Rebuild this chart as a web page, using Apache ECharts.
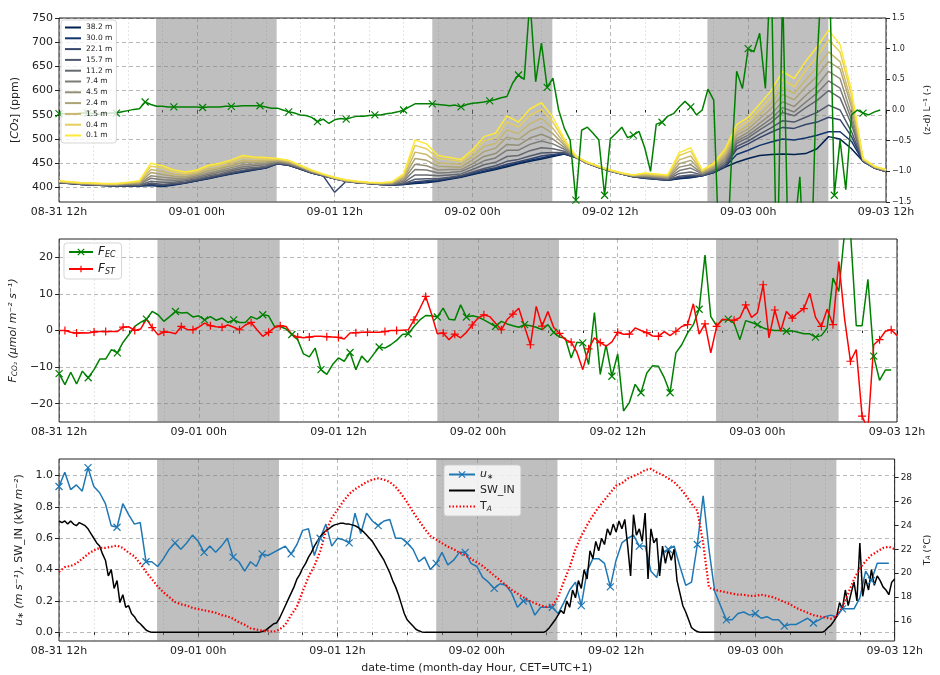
<!DOCTYPE html>
<html><head><meta charset="utf-8">
<script src="https://cdn.jsdelivr.net/npm/echarts@6/dist/echarts.min.js"></script>
<style>html,body{margin:0;padding:0;background:#fff}#c{width:940px;height:675px}</style>
</head><body><div id="c"></div>
<script>
// ---------------- DATA ----------------
// x in hours since 08-31 12:00 (CET)
const xTickLabels = ['08-31 12h','09-01 00h','09-01 12h','09-02 00h','09-02 12h','09-03 00h','09-03 12h'];
const nightShades = [[8.45,18.95],[32.5,42.95],[56.45,66.98]];
const co2Ticks = [400,450,500,550,600,650,700,750];
const fluxTicks = [-20,-10,0,10,20];
const ustarTicks = [0,0.2,0.4,0.6,0.8,1.0];
const taTicks = [16,18,20,22,24,26,28];

const heights = ['38.2 m','30.0 m','22.1 m','15.7 m','11.2 m','7.4 m','4.5 m','2.4 m','1.5 m','0.4 m','0.1 m'];
const heightColors = ['#00224e','#123570','#35456c','#4f576c','#666970','#7c7b78','#958f78','#aea373','#c9b86c','#e4cf5b','#fee838'];

// hourly CO2 concentration (ppm), 08-31 12h .. 09-03 12h
const co2_38_2 = [410,408,406,405,404,403,403,403,404,402,405,409,414,418,423,428,432,436,440,449,446,438,430,424,418,413,410,408,406,405,406,408,410,413,417,421,427,432,437,443,449,454,459,464,469,462,450,441,434,428,422,419,417,415,418,420,424,431,442,452,460,466,468,469,468,470,480,505,500,480,454,440,433];
const co2_30_0 = [410,408,406,405,404,403,403,403,405,403,406,409,414,419,424,429,433,437,440,449,446,438,430,424,418,413,410,408,406,405,406,410,412,414,418,422,428,433,439,445,451,456,461,466,469,462,450,441,434,428,422,419,417,415,419,421,424,431,443,468,477,487,494,500,498,502,508,515,515,495,454,440,433];
const co2_22_1 = [410,408,406,405,404,403,403,404,406,404,407,410,415,419,424,429,434,437,441,449,446,438,430,424,390,413,410,408,406,405,407,412,414,416,419,423,430,436,441,448,453,459,465,468,471,462,450,441,434,428,422,420,418,416,421,423,424,432,444,479,490,503,514,524,522,530,535,545,540,505,455,440,433];
const co2_15_7 = [410,408,406,405,404,404,404,404,409,406,408,411,416,421,426,431,435,439,442,450,447,439,431,424,418,413,410,408,406,406,408,417,418,418,421,425,432,439,445,454,458,465,471,472,472,462,450,441,434,428,422,420,418,416,423,426,425,433,446,485,496,510,523,538,535,545,555,570,560,515,455,440,433];
const co2_11_2 = [411,409,407,406,405,404,405,405,413,411,411,414,418,424,428,434,439,441,444,451,448,440,431,425,418,413,410,408,407,406,410,426,426,424,426,428,437,447,452,464,466,476,482,480,475,462,450,441,434,428,423,421,419,417,429,432,426,435,450,491,503,519,534,555,548,565,580,600,585,530,456,441,434];
const co2_7_4 = [411,409,407,406,405,405,406,407,419,416,415,416,421,427,432,437,443,445,447,452,449,441,432,425,419,414,411,409,407,407,413,437,436,430,431,433,443,455,461,477,477,489,496,490,479,463,450,442,434,428,423,423,421,419,435,440,428,437,454,496,508,525,542,565,556,576,595,620,605,540,456,441,434];
const co2_4_5 = [412,410,408,407,406,405,407,408,424,421,419,419,424,430,435,441,447,448,450,454,450,442,433,426,419,414,411,409,408,408,416,448,445,436,437,437,449,464,470,489,487,502,510,500,483,463,451,442,435,429,424,424,422,420,442,447,429,439,459,501,514,533,551,577,567,590,610,640,625,550,457,442,435];
const co2_2_4 = [412,410,408,407,406,406,408,409,431,427,423,422,427,434,439,445,452,452,453,455,452,443,433,426,419,414,411,409,408,409,419,460,456,444,443,442,457,474,481,504,499,517,526,511,487,463,451,442,435,429,424,425,423,421,449,456,431,442,464,508,521,542,563,592,581,607,630,660,645,565,457,442,435];
const co2_1_5 = [413,411,409,408,407,407,409,411,437,433,427,426,430,438,442,449,456,455,456,457,453,444,434,427,420,415,412,410,409,410,422,473,468,451,449,448,464,485,491,519,511,532,543,522,491,464,451,443,435,429,425,427,425,423,457,465,433,445,469,514,528,551,574,606,594,622,648,680,660,575,458,443,436];
const co2_0_4 = [413,411,409,408,407,407,410,413,444,440,432,429,433,443,447,453,462,460,459,459,455,445,435,427,420,415,412,410,409,411,425,487,480,460,457,454,472,496,503,535,525,549,561,535,496,464,452,443,436,430,425,429,427,425,466,475,435,448,475,522,537,561,587,623,608,641,670,705,680,590,459,443,436];
const co2_0_1 = [414,412,410,409,408,408,411,414,450,445,436,432,436,446,450,457,466,463,462,460,456,446,436,428,421,416,413,411,410,412,428,498,490,466,462,458,478,505,512,548,535,562,575,545,500,465,452,444,436,430,426,430,428,426,472,482,436,450,480,530,545,572,600,640,625,660,690,725,695,600,460,444,437];

// half-hourly stability (z-d)/L (-)
const zL = [-0.06,-0.06,-0.07,-0.06,-0.05,-0.05,-0.06,-0.07,-0.06,-0.05,
-0.05,-0.03,-0.01,0.01,0.02,0.13,0.09,0.06,0.06,0.05,
0.05,0.05,0.05,0.05,0.05,0.04,0.05,0.05,0.05,0.06,
0.06,0.06,0.07,0.07,0.07,0.07,0.05,0.03,0.03,0.0,
-0.03,-0.05,-0.08,-0.09,-0.12,-0.19,-0.15,-0.22,-0.16,-0.14,
-0.15,-0.12,-0.10,-0.10,-0.09,-0.08,-0.08,-0.06,-0.05,-0.03,
0.0,0.05,0.1,0.1,0.1,0.1,0.09,0.08,0.07,0.08,
0.05,0.09,0.11,0.12,0.13,0.15,0.17,0.2,0.22,0.44,
0.57,0.5,1.8,0.46,1.09,0.37,0.52,0.0,-0.3,-0.49,
-1.47,-0.33,-0.28,-0.38,-0.49,-1.39,-0.47,-0.38,-0.28,-0.45,
-0.41,-0.35,-0.62,-1.0,-0.23,-0.2,-0.1,-0.06,0.05,0.14,
0.05,-0.08,0.0,0.34,0.16,-2.5,-3.0,-1.0,0.63,0.35,
1.0,0.95,1.25,0.35,2.5,-3.0,2.0,-2.5,-2.0,-1.09,
-3.0,-2.5,0.8,2.5,3.0,-1.39,-0.49,-1.3,-0.08,0.0,
-0.05,-0.08,-0.03,0.0];

// half-hourly fluxes (umol m-2 s-1)
const fEC = [-11.8,-14.8,-11.4,-14.6,-11.1,-12.9,-10.7,-7.8,-7.8,-5.2,
-6.1,-3.2,-1.1,1.1,2.2,3.1,5.2,4.3,2.5,3.8,
5.2,4.8,4.9,3.7,4.0,2.9,3.8,2.8,3.4,2.2,
2.9,2.2,2.2,3.8,3.1,4.3,4.0,1.1,1.1,0.4,
-1.1,-2.5,-6.4,-7.2,-4.8,-10.7,-12.0,-9.3,-7.5,-8.4,
-6.0,-10.7,-7.0,-8.7,-6.6,-4.5,-4.8,-3.9,-2.7,-1.1,
-0.9,1.1,2.9,4.1,4.0,3.7,6.1,3.1,2.9,7.0,
3.7,4.0,3.7,2.9,2.0,1.1,2.5,1.8,1.3,0.9,
1.6,1.3,0.9,0.2,1.6,-0.5,-1.8,-2.1,-7.5,-3.2,
-3.4,-9.3,4.9,-12.0,-3.9,-12.5,-6.4,-22.0,-19.7,-14.7,
-17.0,-11.6,-9.6,-9.8,-12.9,-17.0,-6.1,-3.9,-0.7,1.6,
5.8,20.6,3.8,1.3,2.9,3.1,2.0,-2.5,2.7,2.2,
1.6,0.7,0.2,0.0,0.0,-0.2,-0.1,-0.5,-0.9,-0.9,
-1.8,-1.4,0.7,14.3,10.7,27,27,1.3,1.3,14.0,
-7.0,-13.6,-10.8,-10.8];
const fST = [0.0,0.0,-0.5,-0.7,-0.6,-0.7,-0.4,-0.3,-0.3,-0.3,
-0.3,0.9,1.0,0.0,0.4,3.1,0.8,-1.2,-0.4,-0.5,
-0.9,1.1,0.3,0.2,0.9,2.0,1.3,1.0,0.9,1.5,
0.9,0.2,1.5,2.2,0.2,-1.6,-0.5,0.8,1.3,1.1,
-1.1,-1.8,-2.0,-1.8,-1.6,-1.6,-1.7,-1.8,-1.9,-2.3,
-0.7,-0.6,-0.5,-0.5,-0.5,-0.5,-0.3,0.0,0.0,0.1,
0.2,2.9,6.0,9.3,4.5,-0.9,-0.7,-2.5,-1.0,-2.0,
-0.5,1.5,3.4,4.3,3.8,2.0,0.2,3.0,4.5,6.1,
1.0,-3.9,6.6,1.2,5.2,0.8,-0.8,-2.5,-3.2,-6.0,
-10.7,-5.0,-2.0,-3.3,-4.3,-3.1,-0.5,-1.0,-1.0,0.7,
0.0,-0.6,-1.5,-1.6,-0.3,-1.4,-0.2,1.1,1.6,7.3,
-1.0,1.8,-6.1,1.1,3.1,2.9,2.8,3.5,7.0,3.6,
4.8,12.5,-2.0,5.6,-0.2,5.2,3.4,4.8,6.0,10.2,
3.6,1.1,5.8,1.6,18.8,3.1,-8.4,-5.2,-23.4,-27,
-3.9,-2.5,-0.2,0.2,-1.4];

// half-hourly friction velocity (m s-1)
const uStar = [0.93,1.02,0.91,0.94,0.90,1.05,0.93,0.89,0.82,0.68,
0.67,0.82,0.75,0.69,0.70,0.45,0.45,0.42,0.47,0.53,
0.57,0.53,0.57,0.62,0.58,0.51,0.55,0.51,0.55,0.60,
0.48,0.45,0.39,0.45,0.42,0.50,0.49,0.51,0.53,0.55,
0.50,0.56,0.65,0.66,0.49,0.60,0.69,0.55,0.60,0.59,
0.57,0.76,0.63,0.76,0.71,0.68,0.71,0.72,0.60,0.60,
0.57,0.53,0.45,0.48,0.40,0.44,0.51,0.43,0.46,0.51,
0.51,0.44,0.42,0.35,0.32,0.28,0.31,0.30,0.25,0.16,
0.20,0.20,0.11,0.16,0.16,0.16,0.12,0.19,0.27,0.32,
0.17,0.39,0.47,0.47,0.44,0.29,0.46,0.57,0.60,0.62,
0.55,0.55,0.39,0.35,0.51,0.53,0.55,0.42,0.30,0.32,
0.56,0.87,0.53,0.26,0.17,0.08,0.08,0.12,0.13,0.11,
0.12,0.09,0.10,0.08,0.08,0.04,0.05,0.05,0.07,0.09,
0.06,0.08,0.10,0.11,0.10,0.15,0.15,0.15,0.22,0.39,
0.33,0.44,0.44,0.44];

// 15-min incoming shortwave radiation (kW m-2)
const swIn = [0.71,0.70,0.71,0.69,0.71,0.69,0.68,0.70,0.69,0.68,
0.66,0.63,0.60,0.57,0.55,0.50,0.46,0.36,0.40,0.28,
0.33,0.19,0.24,0.16,0.17,0.12,0.10,0.07,0.055,0.035,
0.015,0.005,
0,0,0,0,0,0,0,0,0,0,
0,0,0,0,0,0,0,0,0,0,
0,0,0,0,0,0,0,0,0,0,
0,0,0,0,0,0,0,0,
0.005,0.01,0.025,0.04,0.055,0.06,0.09,0.13,0.17,0.21,
0.25,0.29,0.34,0.37,0.41,0.44,0.48,0.51,0.55,0.58,
0.61,0.63,0.65,0.66,0.675,0.685,0.69,0.695,0.695,0.69,
0.69,0.685,0.68,0.67,0.655,0.64,0.62,0.60,0.58,0.55,
0.52,0.49,0.46,0.42,0.38,0.33,0.29,0.24,0.18,0.12,
0.08,0.06,0.04,0.02,0.01,0.003,
0,0,0,0,0,0,0,0,0,0,
0,0,0,0,0,0,0,0,0,0,
0,0,0,0,0,0,0,0,0,0,
0,0,0,0,0,0,0,0,0,0,
0,0,
0.01,0.03,0.055,0.08,0.11,0.14,0.12,0.2,0.16,0.27,
0.22,0.33,0.28,0.4,0.34,0.52,0.47,0.58,0.52,0.6,
0.56,0.66,0.62,0.69,0.64,0.71,0.66,0.72,0.55,0.36,
0.75,0.62,0.66,0.58,0.76,0.34,0.66,0.57,0.6,0.36,
0.55,0.44,0.53,0.46,0.53,0.33,0.25,0.17,0.13,0.08,
0.03,0.015,0.005,
0,0,0,0,0,0,0,0,0,0,
0,0,0,0,0,0,0,0,0,0,
0,0,0,0,0,0,0,0,0,0,
0,0,0,0,0,0,0,0,0,0,
0,0,0,
0.01,0.03,0.045,0.07,0.1,0.19,0.15,0.27,0.17,0.25,
0.32,0.2,0.57,0.23,0.34,0.27,0.4,0.3,0.36,0.33,
0.29,0.27,0.24,0.32,0.34];

// half-hourly air temperature (degC)
const tA = [20.1,20.5,20.6,20.8,21.2,21.6,21.9,22.1,22.1,22.2,
22.3,22.1,21.7,21.4,20.8,20.1,19.5,18.9,18.4,18.0,
17.6,17.4,17.3,17.1,17.0,16.9,16.8,16.7,16.5,16.4,
16.2,15.9,15.7,15.4,15.3,15.2,15.2,15.1,15.3,15.7,
16.5,17.2,18.5,19.7,20.6,21.8,23.5,24.6,25.3,26.0,
26.6,27.0,27.3,27.6,27.8,27.9,27.8,27.6,27.2,26.6,
25.9,25.1,24.4,23.7,23.1,22.8,22.5,22.2,22.0,21.7,
21.5,21.2,20.9,20.6,20.2,19.8,19.4,19.0,18.6,18.3,
18.0,17.7,17.5,17.3,17.2,17.3,18.0,19.3,20.5,22.0,
23.1,24.0,24.8,25.5,26.1,26.7,27.3,27.5,27.9,28.1,
28.3,28.6,28.7,28.4,28.2,27.9,27.6,27.1,26.5,25.8,
25.2,22.5,18.8,18.6,18.5,18.4,18.3,18.2,18.2,18.1,
18.1,18.2,18.1,18.0,17.8,17.6,17.4,17.1,16.9,16.7,
16.5,16.4,16.3,16.2,16.4,17.2,18.3,19.5,20.4,21.0,
21.5,21.8,22.1,22.2,22.0];

// ---------------- CHART ----------------
const co2Series = [co2_38_2,co2_30_0,co2_22_1,co2_15_7,co2_11_2,co2_7_4,co2_4_5,co2_2_4,co2_1_5,co2_0_4,co2_0_1];
const X_SYM = 'path://M0,0L10,10M0,10L10,0';
const P_SYM = 'path://M5,0L5,10M0,5L10,5';
const TXT = '#222';
const FONT = 'DejaVu Sans';

function pts(arr, step){ return arr.map((v,i)=>[i*step, v]); }
function marked(arr, step, isMark){
  return arr.map((v,i)=> isMark(i) ? {value:[i*step,v]} : {value:[i*step,v], symbol:'none'});
}
const minus = s => String(s).replace('-', '\u2212');

const gridLine = {show:true, lineStyle:{color:'rgba(0,0,0,0.35)', type:[4,3], width:0.8}};
function xAx(gi, named){
  return {type:'value', gridIndex:gi, min:0, max:72, interval:12,
    axisLine:{show:false},
    axisTick:{show:true, length:4, lineStyle:{color:TXT}},
    minorTick:{show:true, splitNumber:4, length:2.5, lineStyle:{color:TXT}},
    axisLabel:{formatter:v=>xTickLabels[Math.round(v/12)], fontSize:11, color:TXT, margin:5, showMinLabel:true, showMaxLabel:true, fontFamily:FONT},
    splitLine:gridLine,
    minorSplitLine:{show:true, lineStyle:{color:'rgba(0,0,0,0.13)', type:[2,2], width:0.8}},
    name: named ? 'date-time (month-day Hour, CET=UTC+1)' : '',
    nameLocation:'middle', nameGap:22, nameTextStyle:{fontSize:11, color:TXT, fontFamily:FONT}
  };
}
const shadeArea = {silent:true, itemStyle:{color:'rgba(128,128,128,0.5)'},
  data: nightShades.map(r=>[{xAxis:r[0]},{xAxis:r[1]}])};

const series = [];
co2Series.forEach((arr, k)=>{
  const s = {type:'line', name:heights[k], xAxisIndex:0, yAxisIndex:0, data:pts(arr,1),
    symbol:'none', lineStyle:{width:1.5, color:heightColors[k]}, itemStyle:{color:heightColors[k]},
    emphasis:{disabled:true}};
  if(k===0) s.markArea = shadeArea;
  series.push(s);
});
series.push({type:'line', name:'zL', xAxisIndex:0, yAxisIndex:1, data:marked(zL,0.5,i=>i%5===0),
  symbol:X_SYM, symbolSize:7, lineStyle:{width:1.5, color:'#008000'},
  itemStyle:{color:'#008000', borderColor:'#008000', borderWidth:1.2}, emphasis:{disabled:true}});
series.push({type:'line', name:'F_EC', xAxisIndex:1, yAxisIndex:2, data:marked(fEC,0.5,i=>i%5===0),
  symbol:X_SYM, symbolSize:7, lineStyle:{width:1.5, color:'#008000'},
  itemStyle:{color:'#008000', borderColor:'#008000', borderWidth:1.2}, emphasis:{disabled:true},
  markArea: shadeArea});
series.push({type:'line', name:'F_ST', xAxisIndex:1, yAxisIndex:2, data:marked(fST,0.5,i=>(i%5===1||i%5===3)),
  symbol:P_SYM, symbolSize:8, lineStyle:{width:1.5, color:'#ff0000'},
  itemStyle:{color:'#ff0000', borderColor:'#ff0000', borderWidth:1.2}, emphasis:{disabled:true}});
series.push({type:'line', name:'u*', xAxisIndex:2, yAxisIndex:3, data:marked(uStar,0.5,i=>i%5===0),
  symbol:X_SYM, symbolSize:7, lineStyle:{width:1.5, color:'#1f77b4'},
  itemStyle:{color:'#1f77b4', borderColor:'#1f77b4', borderWidth:1.2}, emphasis:{disabled:true},
  markArea: shadeArea});
series.push({type:'line', name:'SW_IN', xAxisIndex:2, yAxisIndex:3, data:pts(swIn,0.25),
  symbol:'circle', showSymbol:false, lineStyle:{width:1.5, color:'#000'},
  itemStyle:{color:'#000'}, emphasis:{disabled:true}});
series.push({type:'line', name:'T_A', xAxisIndex:2, yAxisIndex:4, data:pts(tA,0.5),
  symbol:'circle', showSymbol:false, lineStyle:{width:2.2, color:'#ff0000', type:[1.5,2]},
  itemStyle:{color:'#ff0000'}, emphasis:{disabled:true}});

const legendBox = {backgroundColor:'rgba(255,255,255,0.8)', borderColor:'rgba(204,204,204,0.8)', borderWidth:1, borderRadius:3};

const option = {
  animation:false,
  textStyle:{fontFamily:FONT},
  grid:[
    {left:59, right:43, top:18, height:184, show:true, borderColor:TXT, borderWidth:1, backgroundColor:'transparent'},
    {left:59, right:43, top:239, height:183, show:true, borderColor:TXT, borderWidth:1, backgroundColor:'transparent'},
    {left:59, right:43, top:459, height:184, show:true, borderColor:TXT, borderWidth:1, backgroundColor:'transparent'}
  ],
  xAxis:[xAx(0,false), xAx(1,false), xAx(2,true)],
  yAxis:[
    {type:'value', gridIndex:0, position:'left', min:370, max:750,
      axisLine:{show:false}, axisTick:{show:true, customValues:co2Ticks, length:4, lineStyle:{color:TXT}},
      axisLabel:{customValues:co2Ticks, fontSize:11, color:TXT, margin:6},
      splitLine:gridLine,
      name:'[{i|CO}\u2082] (ppm)', nameLocation:'middle', nameGap:29, nameRotate:90,
      nameTextStyle:{fontSize:11, color:TXT, rich:{i:{fontStyle:'italic', fontSize:11, color:TXT}}}},
    {type:'value', gridIndex:0, position:'right', min:-1.5, max:1.5, interval:0.5,
      axisLine:{show:false}, axisTick:{show:true, length:4, lineStyle:{color:TXT}},
      axisLabel:{formatter:v=>minus(v.toFixed(1)), fontSize:8, color:TXT, margin:6},
      splitLine:{show:false},
      name:'(z-d) L\u207b\u00b9 (-)', nameLocation:'middle', nameGap:37, nameRotate:90,
      nameTextStyle:{fontSize:9, color:TXT}},
    {type:'value', gridIndex:1, position:'left', min:-25, max:25,
      axisLine:{show:false}, axisTick:{show:true, customValues:fluxTicks, length:4, lineStyle:{color:TXT}},
      axisLabel:{customValues:fluxTicks, formatter:v=>minus(v), fontSize:11, color:TXT, margin:6},
      splitLine:gridLine,
      name:'{i|F}{s|CO\u2082}{i| (\u03bcmol m\u207b\u00b2 s\u207b\u00b9)}', nameLocation:'middle', nameGap:31, nameRotate:90,
      nameTextStyle:{fontSize:11, color:TXT, rich:{
        i:{fontStyle:'italic', fontSize:11, color:TXT},
        s:{fontStyle:'italic', fontSize:7.5, color:TXT, verticalAlign:'bottom', lineHeight:8}}}},
    {type:'value', gridIndex:2, position:'left', min:-0.055, max:1.105,
      axisLine:{show:false}, axisTick:{show:true, customValues:ustarTicks, length:4, lineStyle:{color:TXT}},
      axisLabel:{customValues:ustarTicks, formatter:v=>v.toFixed(1), fontSize:11, color:TXT, margin:6},
      splitLine:gridLine,
      name:'{i|u}{s|\u2217}{i| (m s\u207b\u00b9)}, SW_IN (kW {i|m\u207b\u00b2})', nameLocation:'middle', nameGap:31, nameRotate:90,
      nameTextStyle:{fontSize:11, color:TXT, rich:{
        i:{fontStyle:'italic', fontSize:11, color:TXT},
        s:{fontSize:8, color:TXT, verticalAlign:'bottom', lineHeight:8}}}},
    {type:'value', gridIndex:2, position:'right', min:14.34, max:29.52,
      axisLine:{show:false}, axisTick:{show:true, customValues:taTicks, length:4, lineStyle:{color:TXT}},
      axisLabel:{customValues:taTicks, fontSize:9, color:TXT, margin:6},
      splitLine:{show:false},
      name:'T{s|A} (\u00b0C)', nameLocation:'middle', nameGap:17, nameRotate:90,
      nameTextStyle:{fontSize:9, color:TXT, rich:{s:{fontSize:6.5, fontStyle:'italic', color:TXT, verticalAlign:'bottom', lineHeight:7}}}}
  ],
  legend:[
    Object.assign({id:'lgTop', data:heights, orient:'vertical', left:61, top:20, icon:'rect', itemWidth:16, itemHeight:2,
      itemGap:1.8, padding:[3,4,3,4], textStyle:{fontSize:7.5, lineHeight:9, color:TXT}, selectedMode:false}, legendBox),
    Object.assign({id:'lgMid', data:['F_EC','F_ST'], orient:'vertical', left:64, top:243, itemWidth:24, itemHeight:8, itemGap:4,
      padding:[3,6,3,4], selectedMode:false, itemStyle:{borderWidth:1.2},
      formatter:function(n){ return n==='F_EC' ? '{f|F}{s|EC}' : '{f|F}{s|ST}'; },
      textStyle:{fontSize:12, color:TXT, rich:{
        f:{fontStyle:'italic', fontSize:12, color:TXT, lineHeight:14},
        s:{fontStyle:'italic', fontSize:8, color:TXT, verticalAlign:'bottom', lineHeight:8}}}}, legendBox),
    Object.assign({id:'lgBot', data:['u*',{name:'SW_IN', itemStyle:{opacity:0}},{name:'T_A', itemStyle:{opacity:0}}],
      orient:'vertical', left:444, top:465, itemWidth:26, itemHeight:8, itemGap:3,
      padding:[3,6,3,4], selectedMode:false, itemStyle:{borderWidth:1.2},
      formatter:function(n){ return n==='u*' ? '{i|u}{s|\u2217}' : (n==='T_A' ? 'T{s|A}' : n); },
      textStyle:{fontSize:11, color:TXT, lineHeight:13, rich:{
        i:{fontStyle:'italic', fontSize:11, color:TXT, lineHeight:13},
        s:{fontStyle:'italic', fontSize:7.5, color:TXT, verticalAlign:'bottom', lineHeight:8}}}}, legendBox)
  ],
  series: series
};
const chart = echarts.init(document.getElementById('c'));
chart.setOption(option);
</script>
</body></html>
